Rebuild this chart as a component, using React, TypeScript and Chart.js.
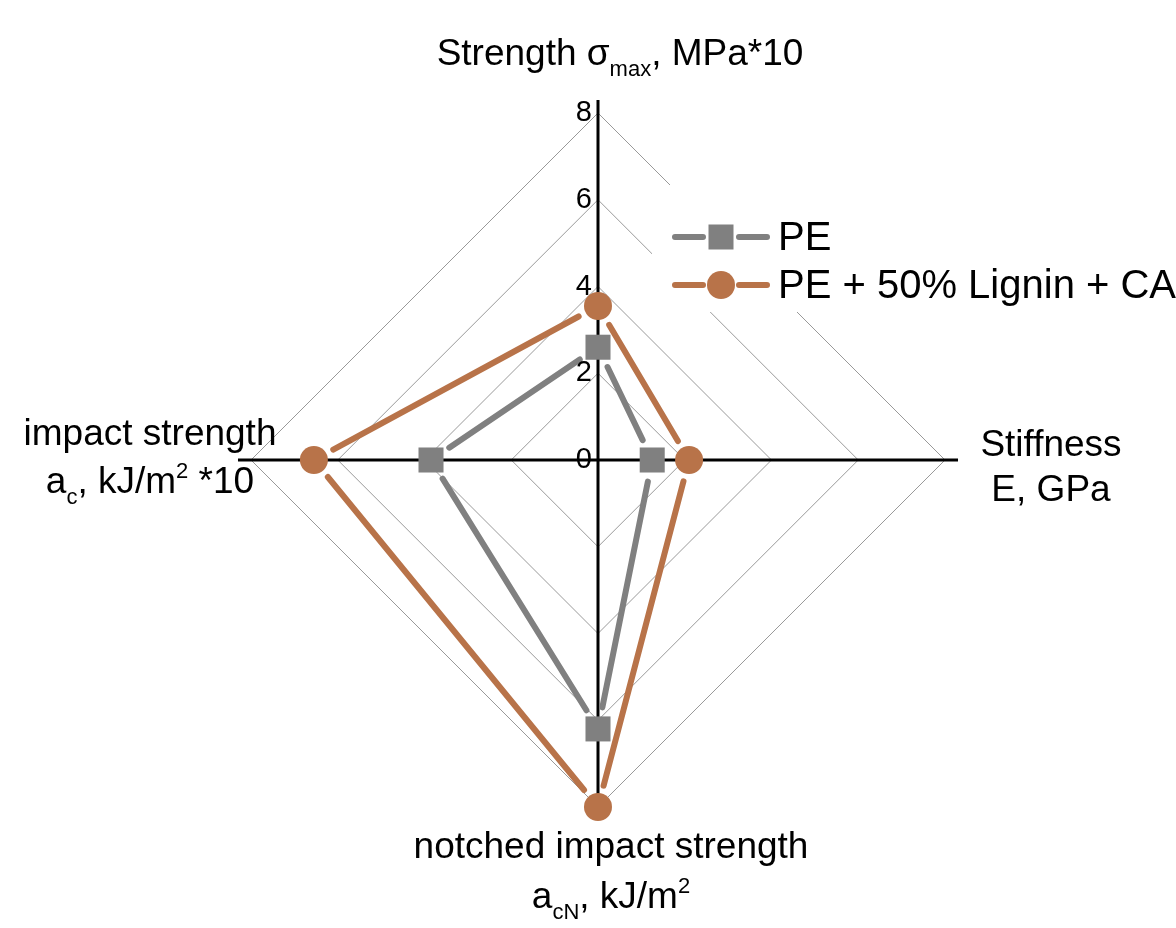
import { useEffect, useRef } from "react";
import { Chart, registerables } from "chart.js";

Chart.register(...registerables);

const categories = ["Strength", "Stiffness", "notched impact strength", "impact strength"];
const tickValues = [0, 2, 4, 6, 8];
const peValues = [2.6, 1.25, 6.2, 3.85];
const ligninValues = [3.55, 2.1, 8.0, 6.55];
const seriesNames = ["PE", "PE + 50% Lignin + CA"];
const seriesColors = ["#808080", "#B87349"];
const seriesStyles = ["rect", "circle"];

type Seg = [string, "n" | "sub" | "sup"];

const axisTitleLines: Seg[][][] = [
  [[["Strength σ", "n"], ["max", "sub"], [", MPa*10", "n"]]],
  [[["Stiffness", "n"]], [["E, GPa", "n"]]],
  [[["notched impact strength", "n"]], [["a", "n"], ["cN", "sub"], [", kJ/m", "n"], ["2", "sup"]]],
  [[["impact strength", "n"]], [["a", "n"], ["c", "sub"], [", kJ/m", "n"], ["2", "sup"], [" *10", "n"]]],
];

const FONT = '"Liberation Sans", Arial, Helvetica, sans-serif';
const GAP = 22;

function drawRich(ctx: CanvasRenderingContext2D, segs: Seg[], cx: number, baseline: number, size: number) {
  const small = Math.round(size * 0.6);
  let total = 0;
  const parts = segs.map(([t, k]) => {
    const s = k === "n" ? size : small;
    ctx.font = `${s}px ${FONT}`;
    const w = ctx.measureText(t).width;
    total += w;
    return { t, k, s, w };
  });
  let x = cx - total / 2;
  ctx.textAlign = "left";
  ctx.textBaseline = "alphabetic";
  for (const p of parts) {
    ctx.font = `${p.s}px ${FONT}`;
    const dy = p.k === "sub" ? size * 0.3 : p.k === "sup" ? -size * 0.4 : 0;
    ctx.fillText(p.t, x, baseline + dy);
    x += p.w;
  }
}

function drawMarker(ctx: CanvasRenderingContext2D, style: string, x: number, y: number, color: string) {
  ctx.fillStyle = color;
  if (style === "rect") {
    ctx.fillRect(x - 12.5, y - 12.5, 25, 25);
  } else {
    ctx.beginPath();
    ctx.arc(x, y, 14, 0, Math.PI * 2);
    ctx.fill();
  }
}

const customPlugin = {
  id: "customRadar",
  beforeDatasetsDraw(chart: any) {
    const ctx: CanvasRenderingContext2D = chart.ctx;
    const scale = chart.scales.r;
    ctx.save();
    // axes
    ctx.strokeStyle = "#000";
    ctx.lineWidth = 3;
    ctx.lineCap = "butt";
    const top = scale.getPointPositionForValue(0, 8.3);
    const bottom = scale.getPointPositionForValue(2, 8.3);
    const right = scale.getPointPositionForValue(1, 8.3);
    const left = scale.getPointPositionForValue(3, 8.3);
    ctx.beginPath();
    ctx.moveTo(top.x, top.y);
    ctx.lineTo(bottom.x, bottom.y);
    ctx.moveTo(left.x, left.y);
    ctx.lineTo(right.x, right.y);
    ctx.stroke();
    // series lines with gaps at markers
    chart.data.datasets.forEach((ds: any, i: number) => {
      const meta = chart.getDatasetMeta(i);
      const pts = meta.data;
      ctx.strokeStyle = ds.lineColor;
      ctx.lineWidth = 6;
      ctx.lineCap = "round";
      for (let j = 0; j < pts.length; j++) {
        const a = pts[j];
        const b = pts[(j + 1) % pts.length];
        const dx = b.x - a.x;
        const dy = b.y - a.y;
        const len = Math.hypot(dx, dy);
        if (len <= GAP * 2) continue;
        const ux = dx / len;
        const uy = dy / len;
        ctx.beginPath();
        ctx.moveTo(a.x + ux * GAP, a.y + uy * GAP);
        ctx.lineTo(b.x - ux * GAP, b.y - uy * GAP);
        ctx.stroke();
      }
    });
    ctx.restore();
  },
  afterDraw(chart: any) {
    const ctx: CanvasRenderingContext2D = chart.ctx;
    const scale = chart.scales.r;
    const cx = scale.xCenter;
    const cy = scale.yCenter;
    ctx.save();
    // tick labels
    ctx.fillStyle = "#000";
    ctx.font = `29px ${FONT}`;
    ctx.textAlign = "right";
    ctx.textBaseline = "middle";
    tickValues.forEach((v) => {
      const p = scale.getPointPositionForValue(0, v);
      ctx.fillText(String(v), p.x - 6, p.y);
    });
    // axis titles
    const size = 37;
    const offsets = [
      { x: 22, y: [-395] },
      { x: 453, y: [-4, 41] },
      { x: 13, y: [398, 448] },
      { x: -448, y: [-15, 33] },
    ];
    axisTitleLines.forEach((lines, i) => {
      lines.forEach((segs, k) => {
        drawRich(ctx, segs, cx + offsets[i].x, cy + offsets[i].y[k], size);
      });
    });
    // legend
    ctx.fillStyle = "#fff";
    ctx.fillRect(652, 185, 1176 - 652, 127);
    const rows = [250, 298];
    seriesNames.forEach((name, i) => {
      const base = rows[i];
      const my = base - 13;
      ctx.strokeStyle = seriesColors[i];
      ctx.lineWidth = 6;
      ctx.lineCap = "round";
      ctx.beginPath();
      ctx.moveTo(675, my);
      ctx.lineTo(703, my);
      ctx.moveTo(739, my);
      ctx.lineTo(767, my);
      ctx.stroke();
      drawMarker(ctx, seriesStyles[i], 721, my, seriesColors[i]);
      ctx.fillStyle = "#000";
      ctx.font = `40px ${FONT}`;
      ctx.textAlign = "left";
      ctx.textBaseline = "alphabetic";
      ctx.fillText(name, 778, base);
    });
    ctx.restore();
  },
};

export default function App() {
  const ref = useRef<HTMLCanvasElement | null>(null);
  useEffect(() => {
    if (!ref.current) return;
    const chart = new Chart(ref.current, {
      type: "radar",
      data: {
        labels: categories,
        datasets: [
          {
            label: seriesNames[0],
            data: peValues,
            lineColor: seriesColors[0],
            showLine: false,
            fill: false,
            pointStyle: "rect",
            pointRadius: 17.7,
            pointBackgroundColor: seriesColors[0],
            pointBorderWidth: 0,
            borderColor: seriesColors[0],
          } as any,
          {
            label: seriesNames[1],
            data: ligninValues,
            lineColor: seriesColors[1],
            showLine: false,
            fill: false,
            pointStyle: "circle",
            pointRadius: 14,
            pointBackgroundColor: seriesColors[1],
            pointBorderWidth: 0,
            borderColor: seriesColors[1],
          } as any,
        ],
      },
      options: {
        responsive: false,
        animation: false,
        events: [],
        layout: { padding: { left: 251, right: 231, top: 113, bottom: 121 } },
        plugins: { legend: { display: false }, tooltip: { enabled: false } },
        elements: { line: { tension: 0 } },
        scales: {
          r: {
            min: 0,
            max: 8,
            ticks: { display: false, stepSize: 2 },
            grid: { color: "#999999", lineWidth: 1 },
            angleLines: { display: false },
            pointLabels: { display: false },
          },
        },
      },
      plugins: [customPlugin],
    });
    return () => chart.destroy();
  }, []);
  return (
    <div style={{ position: "fixed", left: 0, top: 0, width: 1176, height: 928, background: "#fff" }}>
      <canvas ref={ref} width={1176} height={928} style={{ display: "block" }} />
    </div>
  );
}
